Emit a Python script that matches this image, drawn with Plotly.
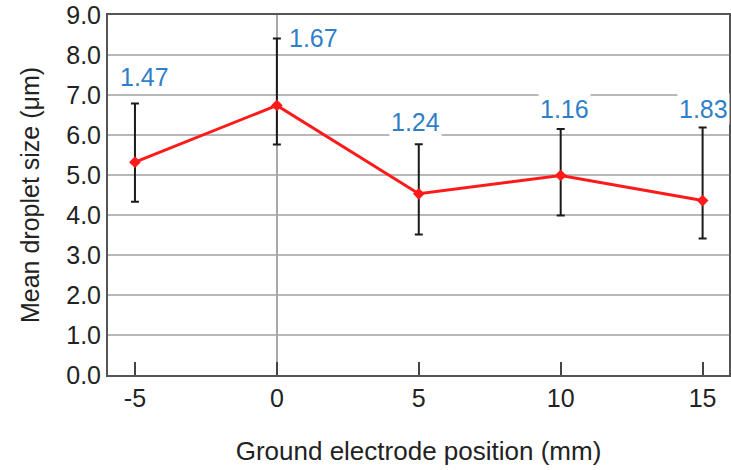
import plotly.graph_objects as go

positions = [-5, 0, 5, 10, 15]
mean_size = [5.32, 6.74, 4.53, 4.99, 4.36]
err_plus = [1.47, 1.67, 1.24, 1.16, 1.83]
err_minus = [0.99, 0.98, 1.02, 1.00, 0.95]
labels = ["1.47", "1.67", "1.24", "1.16", "1.83"]

# label offsets in pixels relative to top of error bar
label_dx = [10, 37, -3, 4, 1]
label_dy = [26, 1, 22, 20, 18]

FONT = "Arial, Liberation Sans, sans-serif"

fig = go.Figure()
fig.add_trace(go.Scatter(
    x=positions, y=mean_size, mode="lines+markers",
    line=dict(color="#ff1a1a", width=3),
    marker=dict(symbol="diamond", size=9, color="#ff1a1a"),
    error_y=dict(type="data", symmetric=False, array=err_plus, arrayminus=err_minus,
                 color="#1a1a1a", thickness=2, width=4),
    showlegend=False,
))

for x, m, e, t, dx, dy in zip(positions, mean_size, err_plus, labels, label_dx, label_dy):
    fig.add_annotation(x=x, y=m + e, text=t, showarrow=False, xshift=dx, yshift=dy,
                       font=dict(family=FONT, size=25, color="#2f7fc8"),
                       bgcolor="white", borderpad=1)

fig.update_layout(
    width=731, height=470,
    margin=dict(l=108, r=2, t=15, b=95),
    paper_bgcolor="white", plot_bgcolor="white",
    font=dict(family=FONT, size=25, color="#222222"),
)
fig.update_xaxes(
    range=[-5.95, 15.93], tickvals=positions, ticktext=["-5", "0", "5", "10", "15"],
    ticks="inside", ticklen=13,
    tickwidth=1.5, tickcolor="#444444", showgrid=False,
    zeroline=True, zerolinecolor="#a8a8a8", zerolinewidth=2,
    showline=True, linecolor="#555555", linewidth=2, mirror=True,
    automargin=False,
    title=dict(text="Ground electrode position (mm)", standoff=31,
               font=dict(size=26)),
    tickfont=dict(size=25),
)
fig.update_yaxes(
    range=[0, 9], dtick=1, tickformat=".1f", ticks="",
    showgrid=True, gridcolor="#b8b8b8", gridwidth=1.5, zeroline=False,
    showline=True, linecolor="#555555", linewidth=2, mirror=True,
    automargin=False,
    title=dict(text="Mean droplet size (μm)", standoff=19, font=dict(size=25)),
    tickfont=dict(size=25),
)
fig.write_html(
    "out.html",
    config={"displayModeBar": False},
    post_script="document.body.style.margin='0';document.body.style.overflow='hidden';"
                "document.documentElement.style.overflow='hidden';",
)
